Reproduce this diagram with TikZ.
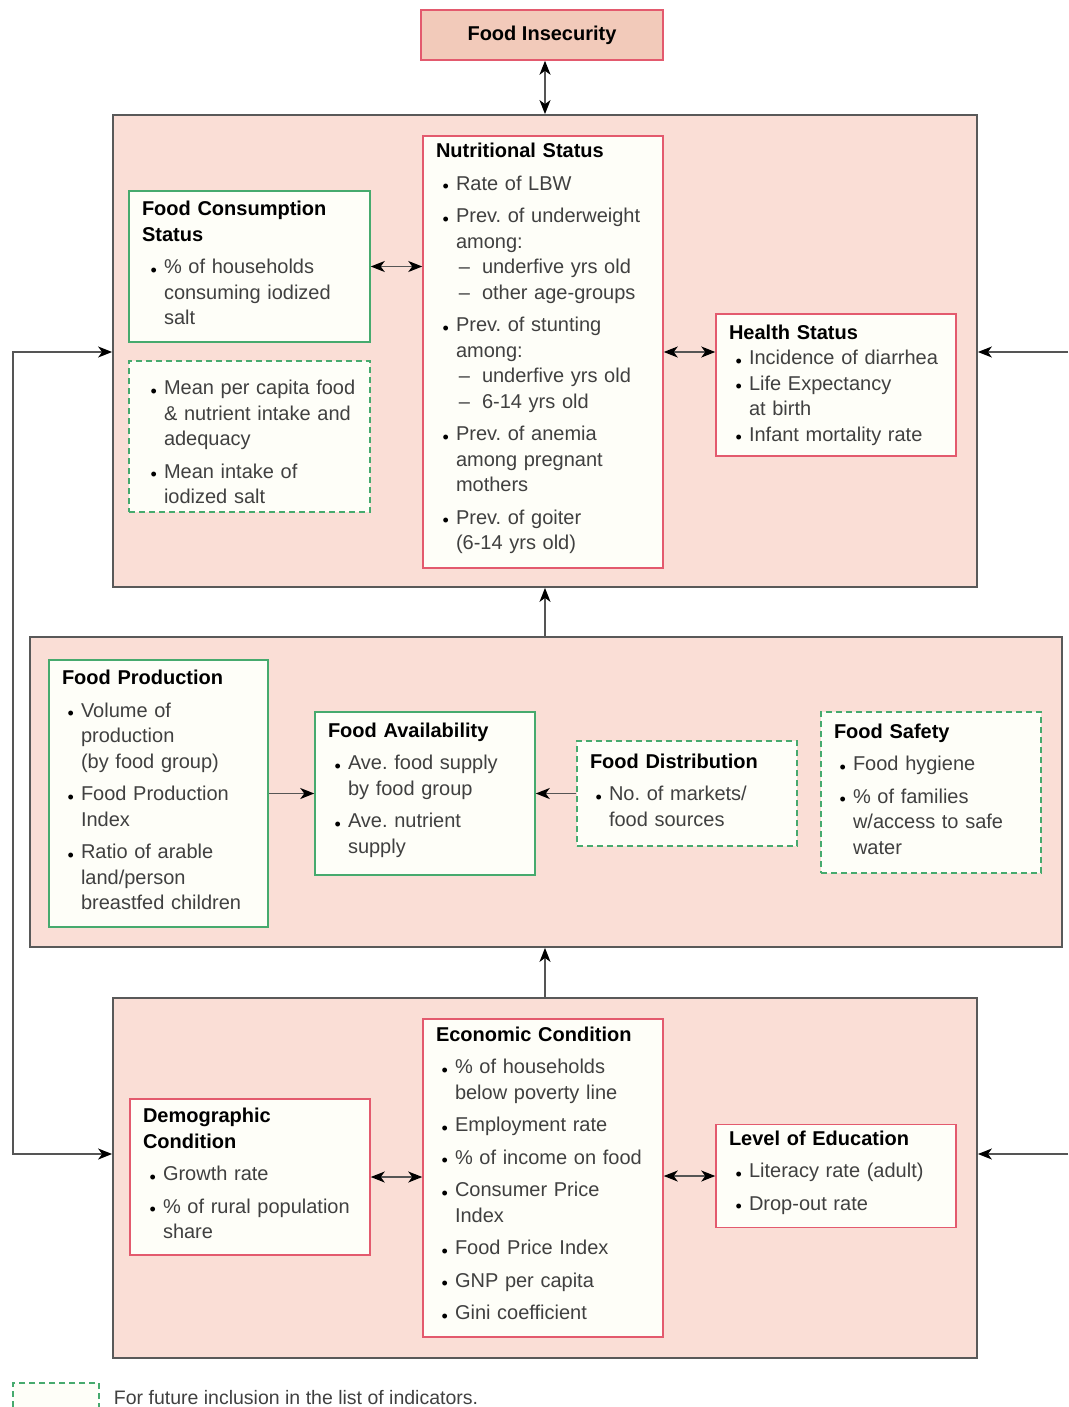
\documentclass[tikz,border=0pt]{standalone}
\usepackage{fontspec}
\setmainfont{Liberation Sans}
\usepackage{enumitem}
\usetikzlibrary{positioning,arrows.meta}
\definecolor{fifill}{HTML}{F2CABA}
\definecolor{bandfill}{HTML}{FADED6}
\definecolor{bandline}{HTML}{595959}
\definecolor{redline}{HTML}{E35A6E}
\definecolor{greenline}{HTML}{46AA6E}
\definecolor{boxfill}{HTML}{FEFEF8}
\definecolor{itemgrey}{HTML}{404040}
\definecolor{arrowgrey}{HTML}{555555}
\frenchspacing
\setlist[itemize,1]{label={\color{black}\raisebox{-2.5pt}{\fontsize{18}{18}\selectfont\textbullet}},leftmargin=20pt,labelsep=7pt,topsep=7pt,partopsep=0pt,itemsep=7pt,parsep=0pt,before=\color{itemgrey}}
\setlist[itemize,2]{label={--},leftmargin=26pt,labelsep=12pt,topsep=0pt,partopsep=0pt,itemsep=0pt,parsep=0pt}

\begin{document}
\begin{tikzpicture}[x=1pt,y=-1pt,
  band/.style={draw=bandline,fill=bandfill,line width=1.8pt},
  box/.style={fill=boxfill,line width=1.5pt,inner xsep=13pt,inner ysep=6pt,align=left,font=\fontsize{20}{25.5}\selectfont},
  redbox/.style={box,draw=redline},
  greenbox/.style={box,draw=greenline},
  futurebox/.style={box,draw=greenline,dash pattern=on 6pt off 4pt},
  arr/.style={draw=arrowgrey,line width=1.5pt,-{Stealth[length=14pt,width=11pt,inset=4pt,color=black]}},
  dbl/.style={draw=arrowgrey,line width=1.5pt,{Stealth[length=14pt,width=11pt,inset=4pt,color=black]}-{Stealth[length=14pt,width=11pt,inset=4pt,color=black]}}
]
\useasboundingbox (0,0) rectangle (1068,1407);

% bands
\node[band,minimum width=864pt,minimum height=472pt] (top) at (545,351) {};
\node[band,minimum width=1032pt,minimum height=310pt] (mid) at (546,792) {};
\node[band,minimum width=864pt,minimum height=360pt] (bot) at (545,1178) {};

\node[draw=redline,fill=fifill,line width=1.5pt,minimum width=242pt,minimum height=50pt,font=\fontsize{20}{24}\selectfont\bfseries] (fi) at (542,35) {Food Insecurity};

% top band
\node[greenbox,text width=215pt,minimum height=151pt] (fcs) at (249.5,266.5) {\textbf{Food Consumption\\Status}
\begin{itemize}[leftmargin=22pt]
\item \% of households\\consuming iodized\\salt
\end{itemize}};
\node[futurebox,text width=215pt,minimum height=151pt] (fcsx) at (249.5,436.5) {\begin{itemize}[leftmargin=22pt,topsep=0pt]
\item Mean per capita food\\\& nutrient intake and\\adequacy
\item Mean intake of\\iodized salt
\end{itemize}};
\node[redbox,text width=214pt,minimum height=432pt] (ns) at (543,352) {\textbf{Nutritional Status}
\begin{itemize}
\item Rate of LBW
\item Prev. of underweight\\among:
  \begin{itemize}
  \item underfive yrs old
  \item other age-groups
  \end{itemize}
\item Prev. of stunting\\among:
  \begin{itemize}
  \item underfive yrs old
  \item 6-14 yrs old
  \end{itemize}
\item Prev. of anemia\\among pregnant\\mothers
\item Prev. of goiter\\(6-14 yrs old)
\end{itemize}};
\node[redbox,text width=214pt,minimum height=142pt] (hs) at (836,385) {\textbf{Health Status}
\begin{itemize}[topsep=0pt,itemsep=0pt]
\item Incidence of diarrhea
\item Life Expectancy\\at birth
\item Infant mortality rate
\end{itemize}};

% middle band
\node[greenbox,text width=193pt,minimum height=267pt] (fp) at (158.5,793.5) {\textbf{Food Production}
\begin{itemize}[leftmargin=19pt]
\item Volume of\\production\\(by food group)
\item Food Production\\Index
\item Ratio of arable\\land/person\\breastfed children
\end{itemize}};
\node[greenbox,text width=194pt,minimum height=163pt] (fa) at (425,793.5) {\textbf{Food Availability}
\begin{itemize}
\item Ave. food supply\\by food group
\item Ave. nutrient\\supply
\end{itemize}};
\node[futurebox,text width=194pt,minimum height=105pt] (fd) at (687,793.5) {\textbf{Food Distribution}
\begin{itemize}[leftmargin=19pt]
\item No. of markets/\\food sources
\end{itemize}};
\node[futurebox,text width=194pt,minimum height=161pt] (fs) at (931,792.5) {\textbf{Food Safety}
\begin{itemize}[leftmargin=19pt]
\item Food hygiene
\item \% of families\\w/access to safe\\water
\end{itemize}};

% bottom band
\node[redbox,text width=214pt,minimum height=156pt] (dc) at (250,1177) {\textbf{Demographic\\Condition}
\begin{itemize}
\item Growth rate
\item \% of rural population\\share
\end{itemize}};
\node[redbox,text width=214pt,minimum height=318pt] (ec) at (543,1178) {\textbf{Economic Condition}
\begin{itemize}[leftmargin=19pt]
\item \% of households\\below poverty line
\item Employment rate
\item \% of income on food
\item Consumer Price\\Index
\item Food Price Index
\item GNP per capita
\item Gini coefficient
\end{itemize}};
\node[redbox,text width=214pt,minimum height=102pt] (le) at (836,1176) {\textbf{Level of Education}
\begin{itemize}
\item Literacy rate (adult)
\item Drop-out rate
\end{itemize}};

% legend
\node[draw=greenline,fill=boxfill,line width=1.5pt,dash pattern=on 6pt off 4pt,minimum width=86pt,minimum height=30pt] (leg) at (56,1398) {};
\node[right=14pt of leg,inner sep=0pt,text=itemgrey,font=\fontsize{19.5}{24}\selectfont] (legtext) {For future inclusion in the list of indicators.};

% connectors
\draw[dbl] (top.north) -- (top.north |- fi.south);
\draw[dbl] (fcs.east) -- (fcs.east -| ns.west);
\draw[dbl] (ns.east) -- (ns.east -| hs.west);
\draw[arr] (top.south |- mid.north) -- (top.south);
\draw[arr] (fp.east) -- (fp.east -| fa.west);
\draw[arr] (fd.west) -- (fd.west -| fa.east);
\draw[arr] (bot.north) -- (bot.north |- mid.south);
\draw[dbl] (dc.east) -- (dc.east -| ec.west);
\draw[dbl] (le.west) -- (le.west -| ec.east);

\coordinate (lt) at (13,352);
\coordinate (lb) at (13,1154);
\coordinate (rt) at (1068,352);
\coordinate (rb) at (1068,1154);
\draw[dbl] (lt -| top.west) -- (lt) -- (lb) -- (lb -| bot.west);
\draw[arr] (rt) -- (rt -| top.east);
\draw[arr] (rb) -- (rb -| bot.east);
\end{tikzpicture}
\end{document}
